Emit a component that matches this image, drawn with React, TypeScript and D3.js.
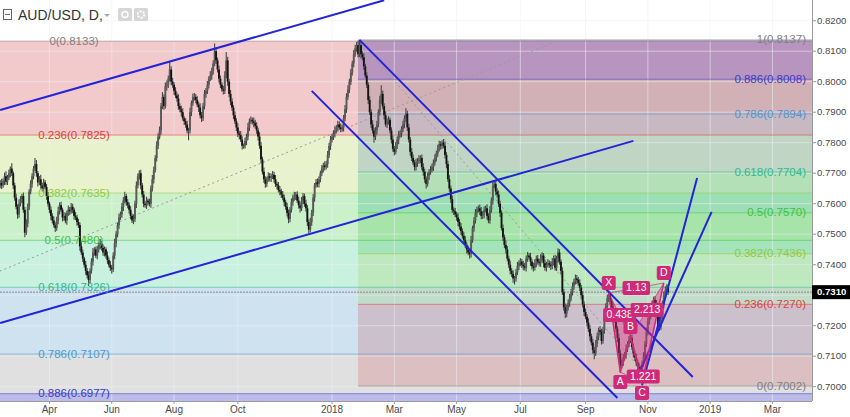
import React from "react";
import * as d3 from "d3";

// ---------------- DATA ----------------
const START_UTC = Date.UTC(2017, 1, 14); // first daily bar (weekdays only)

// daily closes in pips (0.0001)
const closes = [
  7668,7660,7675,7690,7672,7685,7700,7715,7700,7660,
  7620,7590,7565,7600,7615,7625,7580,7505,7535,7590,
  7640,7665,7690,7715,7730,7700,7670,7680,7660,7650,
  7670,7655,7625,7600,7580,7560,7545,7530,7520,7545,
  7575,7595,7580,7555,7560,7545,7570,7580,7575,7590,
  7580,7560,7555,7540,7530,7460,7440,7420,7400,7380,
  7365,7350,7380,7410,7440,7450,7430,7450,7465,7470,
  7455,7440,7450,7430,7415,7400,7390,7385,7430,7470,
  7500,7530,7555,7565,7590,7610,7625,7605,7595,7580,
  7560,7545,7550,7600,7660,7690,7700,7660,7630,7600,
  7595,7610,7605,7600,7650,7680,7710,7750,7790,7820,
  7840,7920,7950,7920,7985,7990,8010,8040,8000,7990,
  7970,7955,7945,7920,7910,7900,7880,7870,7860,7840,
  7840,7900,7930,7950,7950,7940,7925,7915,7890,7880,
  7920,7960,7970,7990,8010,8020,8035,8060,8100,8070,
  8040,8010,7990,7975,7970,8020,8070,8000,7960,7935,
  7915,7890,7870,7850,7830,7825,7810,7790,7790,7805,
  7820,7850,7870,7875,7870,7865,7855,7840,7820,7790,
  7745,7705,7680,7665,7680,7690,7685,7690,7695,7680,
  7665,7660,7645,7640,7630,7620,7605,7590,7570,7550,
  7580,7605,7620,7625,7630,7610,7595,7585,7610,7625,
  7600,7585,7540,7515,7540,7570,7620,7660,7670,7665,
  7680,7700,7715,7725,7720,7730,7760,7790,7810,7820,
  7830,7840,7850,7860,7850,7845,7850,7880,7910,7950,
  7975,8000,8030,8060,8090,8110,8120,8090,8120,8090,
  8080,8050,8020,7990,7940,7900,7860,7840,7820,7840,
  7860,7900,7940,7960,7920,7890,7860,7870,7875,7840,
  7810,7780,7770,7790,7810,7825,7830,7845,7860,7880,
  7895,7850,7810,7770,7750,7735,7720,7735,7740,7745,
  7750,7720,7705,7680,7665,7690,7705,7710,7720,7735,
  7750,7765,7780,7795,7790,7800,7790,7760,7730,7680,
  7650,7615,7580,7575,7565,7555,7540,7525,7510,7495,
  7480,7465,7450,7440,7435,7480,7520,7545,7570,7580,
  7585,7575,7560,7565,7580,7585,7560,7545,7580,7610,
  7660,7665,7640,7630,7600,7570,7520,7490,7465,7450,
  7420,7400,7380,7370,7355,7355,7375,7395,7405,7410,
  7400,7395,7390,7420,7430,7425,7410,7395,7390,7405,
  7420,7410,7405,7420,7430,7405,7390,7400,7405,7400,
  7395,7410,7420,7390,7420,7440,7410,7380,7310,7260,
  7240,7260,7275,7290,7310,7330,7345,7355,7350,7340,
  7325,7300,7270,7245,7230,7210,7190,7165,7145,7120,
  7110,7140,7165,7185,7180,7150,7185,7225,7265,7290,
  7300,7280,7260,7240,7220,7190,7160,7110,7070,7080,
  7095,7105,7125,7140,7155,7160,7130,7110,7095,7080,
  7065,7055,7060,7075,7100,7140,7180,7215,7235,7255,
  7270,7285,7275,7255,7200,7195,7220,7270,7300,7315,
  7325,7310,
];
const firstOpen = 7660;

// upper / lower wick lengths in pips
const wickUp = [
  10,14,8,12,16,9,11,7,18,6,9,13,8,15,10,7,12,9,14,11,
  8,12,10,9,20,13,7,11,15,9,12,8,10,14,7,11,9,13,8,12,
  15,9,11,7,13,10,8,14,9,12,10,7,13,9,11,8,14,10,6,12,
  9,13,8,11,15,7,10,12,9,14,8,11,10,7,13,9,12,8,11,15,
  10,8,13,9,12,11,14,7,10,9,12,8,15,10,13,9,10,11,8,12,
  9,13,7,11,10,14,12,9,15,11,13,10,16,9,12,14,10,24,11,13,
  8,12,10,14,9,11,13,7,10,12,9,15,8,11,13,10,12,9,14,11,
  10,13,9,12,8,14,11,10,25,12,9,13,10,8,11,14,27,12,9,13,
  11,8,12,10,14,9,13,11,7,12,10,15,9,11,8,13,10,12,9,14,
  12,9,14,10,8,13,11,9,12,10,14,8,11,13,9,12,10,8,13,11,
  9,12,10,14,8,11,13,9,12,10,8,13,11,9,14,10,12,8,11,13,
  10,8,12,9,14,11,13,10,12,9,11,14,8,12,10,13,9,11,14,12,
  13,10,12,9,14,11,10,15,17,12,10,13,9,11,8,12,10,14,9,11,
  12,10,14,28,11,9,13,10,12,8,11,14,9,12,10,13,11,9,12,10,
  18,10,12,9,13,11,8,12,10,14,9,11,13,10,8,12,9,14,11,10,
  12,9,13,11,10,8,12,14,9,11,13,10,12,8,11,9,14,10,12,9,
  11,13,9,12,10,14,8,11,13,10,9,12,14,10,11,8,13,9,12,10,
  14,12,9,11,13,10,8,12,9,14,11,10,13,9,12,8,11,14,10,12,
  9,13,11,10,12,8,14,9,11,13,10,12,9,14,11,8,12,10,13,9,
  11,12,10,13,9,14,11,8,12,10,13,9,11,14,10,12,9,13,11,10,
  12,9,13,10,11,8,14,12,9,11,10,13,12,9,14,10,11,13,9,12,
  15,11,9,13,10,12,8,14,11,9,12,10,13,9,11,14,10,12,9,13,
  10,12,9,11,13,10,14,12,9,11,13,10,12,9,14,11,10,13,12,14,
  10,12,
];
const wickDn = [
  9,12,8,14,10,11,7,13,9,12,10,8,14,11,9,13,10,15,8,12,
  11,9,13,10,8,12,14,9,11,10,13,8,12,9,11,14,10,8,13,9,
  12,10,8,13,11,9,14,10,12,8,11,13,9,12,10,14,8,11,9,13,
  10,20,12,9,13,11,8,12,10,14,9,11,13,10,12,8,11,15,9,12,
  13,10,12,8,11,14,9,12,10,13,11,8,12,10,14,9,11,13,10,12,
  8,12,11,9,13,10,14,8,12,11,9,13,10,12,8,14,11,9,12,10,
  13,9,11,12,10,14,8,12,11,9,32,10,13,9,12,11,8,14,10,12,
  9,11,13,10,12,8,14,11,9,12,10,13,11,8,12,10,9,13,11,12,
  10,13,9,12,11,14,8,12,10,9,13,11,12,8,10,14,9,11,13,10,
  12,9,11,13,10,8,12,14,9,11,10,13,8,12,11,9,13,10,12,14,
  11,9,12,10,13,8,11,14,9,12,10,11,13,13,9,12,10,14,8,11,
  12,10,9,13,11,8,12,10,14,9,11,13,10,12,8,11,9,13,10,12,
  9,12,11,10,13,8,12,11,9,14,10,12,8,11,13,9,12,10,20,11,
  13,9,11,12,10,14,8,12,11,9,13,10,12,8,11,14,9,12,10,13,
  11,12,9,13,10,8,12,11,14,9,12,10,13,11,15,9,12,10,8,13,
  10,12,11,9,13,10,8,12,14,9,11,13,10,12,9,11,14,10,12,9,
  12,10,13,9,15,11,8,12,10,14,9,12,11,10,13,8,12,9,11,10,
  13,9,12,10,11,14,8,12,10,13,9,11,12,10,14,20,11,9,12,10,
  11,13,9,12,10,8,14,11,12,9,13,10,11,12,9,14,10,12,8,11,
  12,10,13,9,11,14,10,12,9,11,15,12,10,13,9,11,12,10,14,9,
  11,12,10,13,9,12,11,14,10,12,20,9,11,13,10,12,9,11,13,10,
  12,9,11,13,10,12,14,11,25,10,12,9,13,11,10,12,9,14,11,12,
  10,12,20,11,9,13,10,12,11,14,9,12,10,13,11,12,9,10,13,11,
  12,9,
];

const lastPrice = 0.731;

const priceTicks = [0.82, 0.81, 0.8, 0.79, 0.78, 0.77, 0.76, 0.75, 0.74, 0.73, 0.72, 0.71, 0.7];
const monthKeys = ["2017-04", "2017-06", "2017-08", "2017-10", "2018-01", "2018-03", "2018-05", "2018-07", "2018-09", "2018-11", "2019-01", "2019-03"];
const monthLabels = ["Apr", "Jun", "Aug", "Oct", "2018", "Mar", "May", "Jul", "Sep", "Nov", "2019", "Mar"];

// Fib retracement #1 (left, extended both ways)
const fib1Levels = [0, 0.236, 0.382, 0.5, 0.618, 0.786, 0.886];
const fib1Prices = [0.8133, 0.7825, 0.7635, 0.748, 0.7326, 0.7107, 0.6977];
const fib1Trend = [[-281, 0.6828], [384, 0.8133]];
// Fib retracement #2 (from Jan-2018 high, extended right)
const fib2Levels = [1, 0.886, 0.786, 0.618, 0.5, 0.382, 0.236, 0];
const fib2Prices = [0.8137, 0.8008, 0.7894, 0.7704, 0.757, 0.7436, 0.727, 0.7002];
const fib2Trend = [[248, 0.8137], [452, 0.7002]];

// trend / channel lines: [barIndex, price] pairs
const channelLines = [
  [[0, 0.7907], [265, 0.8267]],
  [[0, 0.7209], [437, 0.7806]],
  [[248, 0.8137], [478, 0.7032]],
  [[215, 0.797], [426, 0.6963]],
  [[443, 0.7005], [481, 0.7684]],
  [[440, 0.7035], [491, 0.7573]],
];

// harmonic XABCD pattern
const patNames = ["X", "A", "B", "C", "D"];
const patPoints = [[420, 0.7307], [428, 0.7048], [435, 0.7163], [443, 0.7012], [458, 0.734]];
const patRatios = ["0.438", "1.221", "2.213", "1.13"];

// ---------------- STYLE ----------------
const PR = 812; // plot right
const PB = 401; // plot bottom
const FONT = "'Liberation Sans', Arial, Helvetica, sans-serif";

const levelColor: Record<string, string> = {
  "0": "#808080",
  "0.236": "#e0403f",
  "0.382": "#93c940",
  "0.5": "#3fc23f",
  "0.618": "#2fb98f",
  "0.786": "#4d97d0",
  "0.886": "#3b3bc8",
  "1": "#808080",
};
const fib1Fill = [
  "rgba(205,45,50,0.25)",
  "rgba(165,205,55,0.25)",
  "rgba(45,200,45,0.25)",
  "rgba(40,200,130,0.25)",
  "rgba(60,140,190,0.25)",
  "rgba(130,130,130,0.25)",
];
const fib2Fill = [
  "rgba(80,55,165,0.36)",
  "rgba(120,110,120,0.26)",
  "rgba(90,140,170,0.28)",
  "rgba(20,170,120,0.25)",
  "rgba(60,190,70,0.25)",
  "rgba(150,200,70,0.22)",
  "rgba(200,60,70,0.2)",
];
const BLUE = "#2323d8";
const MAG = "#cf2a78";

function weekdays(n: number) {
  const out: Date[] = [];
  const d = new Date(START_UTC);
  while (out.length < n) {
    const w = d.getUTCDay();
    if (w !== 0 && w !== 6) out.push(new Date(d.getTime()));
    d.setUTCDate(d.getUTCDate() + 1);
  }
  return out;
}

export default function App() {
  const dates = weekdays(600);
  const x = d3.scaleLinear().domain([0, 229]).range([0.2, 332]);
  const y = d3.scaleLinear().domain([0.7, 0.82]).range([386.7, 20.7]);

  const monthIdx = monthKeys.map((k) =>
    dates.findIndex((d) => `${d.getUTCFullYear()}-${String(d.getUTCMonth() + 1).padStart(2, "0")}` === k)
  );

  const fib2X0 = x(fib2Trend[0][0]) - 1.5;

  const candles = closes.map((c, i) => {
    const o = i === 0 ? firstOpen : closes[i - 1];
    const hi = Math.max(o, c) + (wickUp[i] ?? 10);
    const lo = Math.min(o, c) - (wickDn[i] ?? 10);
    return { i, o: o / 1e4, c: c / 1e4, h: hi / 1e4, l: lo / 1e4 };
  });

  const line = d3.line<number[]>().x((p) => x(p[0])).y((p) => y(p[1]));
  const P = patPoints.map((p) => [x(p[0]), y(p[1])]);
  const mid = (a: number[], b: number[]) => [(a[0] + b[0]) / 2, (a[1] + b[1]) / 2];
  const ratioPos = [mid(P[0], P[2]), mid(P[1], P[3]), mid(P[2], P[4]), mid(P[0], P[4])];
  ratioPos[1] = [ratioPos[1][0] + 12, ratioPos[1][1] - 1];

  const fib1Y = fib1Prices.map((p) => y(p));
  const fib2Y = fib2Prices.map((p) => y(p));
  const lastY = y(lastPrice);

  return (
    <svg width={850} height={417} style={{ position: "fixed", left: 0, top: 0, background: "#fff" }} fontFamily={FONT}>
      <defs>
        <clipPath id="plot">
          <rect x={0} y={0} width={PR} height={PB} />
        </clipPath>
      </defs>
      <rect x={0} y={0} width={850} height={417} fill="#fff" />
      <g clipPath="url(#plot)">
        {/* fib 1 bands */}
        {fib1Fill.map((f, k) => (
          <rect key={"f1" + k} x={0} width={PR} y={fib1Y[k]} height={fib1Y[k + 1] - fib1Y[k]} fill={f} />
        ))}
        <rect x={0} width={PR} y={fib1Y[6]} height={PB - fib1Y[6]} fill="rgba(70,70,200,0.36)" />
        {/* fib 2 bands */}
        {fib2Fill.map((f, k) => (
          <rect key={"f2" + k} x={fib2X0} width={PR - fib2X0} y={fib2Y[k]} height={fib2Y[k + 1] - fib2Y[k]} fill={f} />
        ))}
        {/* grid */}
        {priceTicks.map((p) => (
          <line key={"gy" + p} x1={0} x2={PR} y1={y(p)} y2={y(p)} stroke="rgba(235,238,244,0.55)" />
        ))}
        {monthIdx.map((mi, k) => (
          <line key={"gx" + k} x1={x(mi)} x2={x(mi)} y1={0} y2={PB} stroke="rgba(235,238,244,0.55)" />
        ))}
        {/* fib level lines */}
        {fib1Levels.map((lv, k) => (
          <line key={"l1" + k} x1={0} x2={PR} y1={fib1Y[k]} y2={fib1Y[k]} stroke={levelColor[String(lv)]} strokeOpacity={0.55} />
        ))}
        {fib2Levels.map((lv, k) => (
          <line key={"l2" + k} x1={fib2X0} x2={PR} y1={fib2Y[k]} y2={fib2Y[k]} stroke={levelColor[String(lv)]} strokeOpacity={0.55} />
        ))}
        {/* fib trend lines */}
        <path d={line(fib1Trend) || ""} stroke="#999" strokeDasharray="2,3" fill="none" />
        <path d={line(fib2Trend) || ""} stroke="#999" strokeDasharray="2,3" fill="none" />
        {/* last price line */}
        <line x1={0} x2={PR} y1={lastY} y2={lastY} stroke="#8a8a8a" strokeDasharray="2,1" />
        {/* candles */}
        {candles.map((d) => {
          const cx = x(d.i);
          const top = y(Math.max(d.o, d.c));
          const bot = y(Math.min(d.o, d.c));
          return (
            <g key={"c" + d.i}>
              <line x1={cx} x2={cx} y1={y(d.h)} y2={y(d.l)} stroke="#454545" strokeWidth={1.1} />
              <rect x={cx - 0.95} width={1.9} y={top} height={Math.max(1, bot - top)} fill={d.c >= d.o ? "#5a5a5a" : "#151515"} />
            </g>
          );
        })}
        {/* channel lines */}
        {channelLines.map((l, k) => (
          <path key={"ch" + k} d={line(l) || ""} stroke={BLUE} strokeWidth={2} fill="none" />
        ))}
        {/* harmonic pattern */}
        <polygon points={[P[0], P[1], P[2]].map((p) => p.join(",")).join(" ")} fill="rgba(225,40,120,0.38)" stroke="none" />
        <polygon points={[P[2], P[3], P[4]].map((p) => p.join(",")).join(" ")} fill="rgba(225,40,120,0.38)" stroke="none" />
        <polyline points={P.map((p) => p.join(",")).join(" ")} fill="none" stroke={MAG} strokeWidth={1.5} />
        {[[0, 2], [1, 3], [2, 4], [0, 4]].map(([a, b], k) => (
          <line key={"pd" + k} x1={P[a][0]} y1={P[a][1]} x2={P[b][0]} y2={P[b][1]} stroke={MAG} strokeOpacity={0.7} strokeWidth={1} />
        ))}
        {patRatios.map((t, k) => {
          const w = t.length * 5.4 + 6;
          return (
            <g key={"pr" + k}>
              <rect x={ratioPos[k][0] - w / 2} y={ratioPos[k][1] - 7} width={w} height={14} rx={2} fill={MAG} />
              <text x={ratioPos[k][0]} y={ratioPos[k][1] + 0.5} fontSize={10.5} fill="#fff" textAnchor="middle" dominantBaseline="middle">
                {t}
              </text>
            </g>
          );
        })}
        {patNames.map((n, k) => {
          const up = k % 2 === 0;
          const cy = P[k][1] + (up ? -10 : 10);
          return (
            <g key={"pn" + k}>
              <rect x={P[k][0] - 7} y={cy - 7} width={14} height={14} rx={2} fill={MAG} />
              <text x={P[k][0]} y={cy + 0.5} fontSize={10.5} fill="#fff" textAnchor="middle" dominantBaseline="middle">
                {n}
              </text>
            </g>
          );
        })}
        {/* fib labels */}
        {fib1Levels.map((lv, k) => (
          <text key={"t1" + k} x={74} y={fib1Y[k] + 0.5} fontSize={11.5} fill={levelColor[String(lv)]} textAnchor="middle" dominantBaseline="middle">
            {`${lv}(${fib1Prices[k].toFixed(4)})`}
          </text>
        ))}
        {fib2Levels.map((lv, k) => (
          <text key={"t2" + k} x={806} y={fib2Y[k] + 0.5} fontSize={11.5} fill={levelColor[String(lv)]} textAnchor="end" dominantBaseline="middle">
            {`${lv}(${fib2Prices[k].toFixed(4)})`}
          </text>
        ))}
      </g>

      {/* right axis */}
      <rect x={PR} y={0} width={850 - PR} height={417} fill="#fff" />
      <line x1={PR + 0.5} x2={PR + 0.5} y1={0} y2={PB} stroke="#9a9a9a" />
      {priceTicks.map((p) => (
        <g key={"ry" + p}>
          <line x1={PR} x2={PR + 4} y1={y(p)} y2={y(p)} stroke="#9a9a9a" />
          {Math.abs(y(p) - lastY) > 10 && (
            <text x={817} y={y(p) + 0.5} fontSize={9.6} fill="#4a4a4a" dominantBaseline="middle">
              {p.toFixed(4)}
            </text>
          )}
        </g>
      ))}
      <rect x={PR} y={lastY - 7} width={38} height={14} fill="#000" />
      <text x={817} y={lastY + 0.5} fontSize={9.6} fontWeight="bold" fill="#fff" dominantBaseline="middle">
        {lastPrice.toFixed(4)}
      </text>

      {/* bottom axis */}
      <rect x={0} y={PB} width={PR} height={417 - PB} fill="#fff" />
      <line x1={0} x2={PR} y1={PB + 0.5} y2={PB + 0.5} stroke="#9a9a9a" />
      {monthIdx.map((mi, k) => (
        <g key={"mx" + k}>
          <line x1={x(mi)} x2={x(mi)} y1={PB} y2={PB + 3} stroke="#9a9a9a" />
          <text x={x(mi)} y={413} fontSize={10} fill="#4a4a4a" textAnchor="middle">
            {monthLabels[k]}
          </text>
        </g>
      ))}

      {/* title */}
      <rect x={3.5} y={9.5} width={8} height={10} fill="none" stroke="#666" />
      <line x1={5} x2={10} y1={14.5} y2={14.5} stroke="#666" />
      <text x={18} y={20} fontSize={14} fill="#333">
        AUD/USD, D,
      </text>
      <path d="M104,14 l3,3 l3,-3 z" fill="#aaa" />
      <rect x={118} y={8} width={14} height={13} rx={1.5} fill="#d6d6d6" />
      <circle cx={125} cy={14.5} r={3} fill="none" stroke="#fff" strokeWidth={1.5} />
      <rect x={134} y={8} width={14} height={13} rx={1.5} fill="#d6d6d6" />
      <circle cx={141} cy={14.5} r={3.2} fill="none" stroke="#fff" strokeWidth={2} strokeDasharray="2,1.3" />
    </svg>
  );
}
